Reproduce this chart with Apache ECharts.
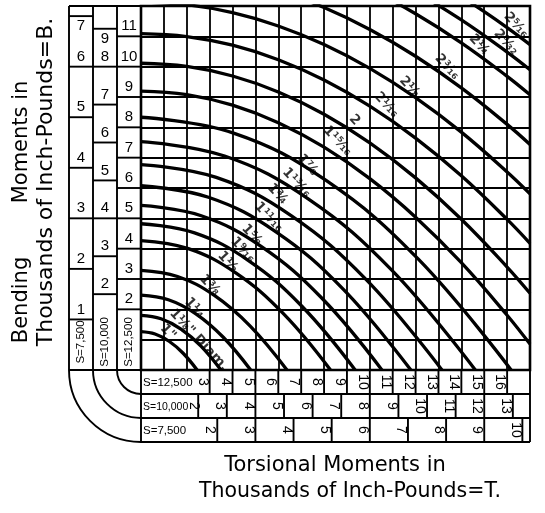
<!DOCTYPE html>
<html><head><meta charset="utf-8">
<script src="https://cdn.jsdelivr.net/npm/echarts@6/dist/echarts.min.js"></script>
<style>html,body{margin:0;padding:0;background:#fff}#c{width:545px;height:513px}</style>
</head><body><div id="c"></div>
<script>
// ---- data (T, B in thousands of in-lb on the S=12,500 scale) ----
const diameterLabels = ['1"', '1⅛" Diam.', '1¼', '1⅜', '1½', '1⁹⁄₁₆', '1⅝', '1¹¹⁄₁₆', '1¾', '1¹³⁄₁₆', '1⅞', '1¹⁵⁄₁₆', '2', '2¹⁄₁₆', '2⅛', '2³⁄₁₆', '2¼', '2⁹⁄₃₂', '2⁵⁄₁₆'];
const c1  = [[0,1.264],[0.614,1.185],[1.227,0.948],[1.841,0.553],[2.454,0]];
const c2  = [[0,1.800],[0.874,1.688],[1.747,1.350],[2.621,0.788],[3.494,0]];
const c3  = [[0,2.469],[1.198,2.315],[2.397,1.852],[3.595,1.080],[4.793,0]];
const c4  = [[0,3.286],[1.595,3.081],[3.190,2.465],[4.784,1.438],[6.379,0]];
const c5  = [[0,4.266],[2.071,4.000],[4.141,3.200],[6.212,1.866],[8.282,0]];
const c6  = [[0,4.822],[2.340,4.521],[4.681,3.617],[7.021,2.110],[9.361,0]];
const c7  = [[0,5.424],[2.633,5.085],[5.265,4.068],[7.898,2.373],[10.530,0]];
const c8  = [[0,6.074],[2.948,5.694],[5.897,4.556],[8.845,2.657],[11.793,0]];
const c9  = [[0,6.774],[3.288,6.351],[6.576,5.081],[9.864,2.964],[13.152,0]];
const c10 = [[0,7.526],[3.653,7.056],[7.306,5.645],[10.959,3.293],[14.612,0]];
const c11 = [[0,8.332],[4.044,7.811],[8.088,6.249],[12.132,3.645],[16.176,0]];
const c12 = [[0,9.193],[2,9.078],[4,8.731],[6,8.154],[8,7.346],[10,6.308],[12,5.038],[14,3.538],[16,1.806],[17,0.854]];
const c13 = [[0,10.112],[2,10.007],[4,9.692],[6,9.167],[8,8.433],[10,7.488],[12,6.334],[14,4.970],[16,3.395],[17,2.530]];
const c14 = [[0,11.090],[2,10.994],[4,10.707],[6,10.229],[8,9.559],[10,8.698],[12,7.645],[14,6.401],[16,4.966],[17,4.176]];
const c15 = [[0,12.129],[2,12.042],[4,11.779],[6,11.342],[8,10.729],[10,9.942],[12,8.979],[14,7.842],[16,6.529],[17,5.807]];
const c16 = [[4,12.910],[6,12.509],[8,11.948],[10,11.226],[12,10.343],[14,9.301],[16,8.098],[17,7.436]];
const c17 = [[8,13.219],[10,12.555],[12,11.745],[14,10.786],[16,9.681],[17,9.073]];
const c18 = [[10,13.238],[12,12.460],[14,11.541],[16,10.480],[17,9.897]];
const c19 = [[11,13.577],[13,12.763],[14,12.304],[15,11.812],[16,11.286],[17,10.726]];
const curves = [c1,c2,c3,c4,c5,c6,c7,c8,c9,c10,c11,c12,c13,c14,c15,c16,c17,c18,c19];
const labelPoints = [[1.18,1.25],[2.53,0.99],[2.35,2.04],[3.01,2.80],[3.79,3.56],[4.45,3.96],[4.84,4.45],[5.58,5.04],[5.97,5.80],[6.80,6.17],[7.28,6.76],[8.59,7.55],[9.33,8.24],[10.72,8.74],[11.73,9.33],[13.38,9.99],[14.78,10.72],[15.95,10.81],[16.39,11.37]];

// scale ticks for the three allowable stresses
const stressValues = [12500, 10000, 7500];
const stressNames  = ['S=12,500', 'S=10,000', 'S=7,500'];
const torsionTicks12500 = [3,4,5,6,7,8,9,10,11,12,13,14,15,16];
const torsionTicks10000 = [2,3,4,5,6,7,8,9,10,11,12,13];
const torsionTicks7500  = [2,3,4,5,6,7,8,9,10];
const bendingTicks12500 = [2,3,4,5,6,7,8,9,10,11];
const bendingTicks10000 = [2,3,4,5,6,7,8,9];
const bendingTicks7500  = [1,2,3,4,5,6,7];
const torsionTicks = [torsionTicks12500, torsionTicks10000, torsionTicks7500];
const bendingTicks = [bendingTicks12500, bendingTicks10000, bendingTicks7500];

const FONT = "'DejaVu Sans', sans-serif";
const SFONT = "'Liberation Sans', Arial, sans-serif";

function frameRender(params, api) {
  const o = api.coord([0, 0]);
  const tr = api.coord([17, 12]);
  const W = 24, LW = 1.9;
  const ch = [];
  const line = (x1, y1, x2, y2, w) => ch.push({type: 'line', shape: {x1, y1, x2, y2}, style: {stroke: '#000', lineWidth: w || LW}});
  const text = (str, x, y, rot, size, align, weight) => ch.push({type: 'text', x, y, rotation: rot || 0,
    style: {text: str, x: 0, y: 0, fill: '#000', fontSize: size, fontFamily: SFONT, fontWeight: weight || 'normal',
            align: align || 'center', verticalAlign: 'middle'}});
  stressValues.forEach((S, i) => {
    const f = 12500 / S;
    // horizontal strip (torsion)
    const yTop = o[1] + i * W, yBot = o[1] + (i + 1) * W, yMid = (yTop + yBot) / 2;
    line(o[0], yBot, tr[0], yBot);
    torsionTicks[i].forEach((v, k) => {
      const x = api.coord([v * f, 0])[0];
      line(x, yTop, x, yBot);
      text(String(v), x - (i === 1 && k === 0 ? 4 : 7), yMid, -Math.PI / 2, 14);
    });
    text(stressNames[i], o[0] + 2, yMid + 1, 0, i === 1 ? 10.5 : 11.5, 'left');
    // vertical strip (bending)
    const xR = o[0] - i * W, xL = o[0] - (i + 1) * W, xMid = (xL + xR) / 2;
    line(xL, tr[1], xL, o[1]);
    const bt = bendingTicks[i];
    bt.forEach((v, k) => {
      const y = api.coord([0, v * f])[1];
      line(xL, y, xR, y);
      const below = i > 0 && k === bt.length - 1;
      text(String(v), xMid, below ? y + 10 : y - 10, 0, 15);
    });
    text(stressNames[i], xMid, o[1] - 28, Math.PI / 2, 11.5);
    ch.push({type: 'arc', shape: {cx: o[0], cy: o[1], r: (i + 1) * W, startAngle: Math.PI / 2, endAngle: Math.PI, clockwise: true},
      style: {stroke: '#000', fill: null, lineWidth: LW}});
  });
  line(o[0], o[1], o[0], o[1] + 3 * W);
  line(o[0] - 3 * W, tr[1], o[0], tr[1]);
  line(o[0] - 3 * W, o[1], o[0], o[1]);
  line(tr[0], o[1], tr[0], o[1] + 3 * W);
  return {type: 'group', children: ch};
}

const chart = echarts.init(document.getElementById('c'), null, {renderer: 'canvas'});
const axisCommon = {
  type: 'value', interval: 1,
  axisLine: {show: false}, axisTick: {show: false}, axisLabel: {show: false},
  splitLine: {show: true, lineStyle: {color: '#000', width: 1.8}}
};
const titleStyle = (t, size) => ({text: t, x: 0, y: 0, fill: '#000', fontSize: size, fontFamily: FONT, align: 'center', verticalAlign: 'middle'});
chart.setOption({
  animation: false,
  backgroundColor: '#fff',
  grid: {left: 141, top: 6, width: 389, height: 364, show: true, borderColor: '#000', borderWidth: 2.6,
         backgroundColor: 'transparent', containLabel: false, outerBoundsMode: 'none'},
  xAxis: Object.assign({min: 0, max: 17}, axisCommon),
  yAxis: Object.assign({min: 0, max: 12}, axisCommon),
  series: curves.map(c => ({
    type: 'line', data: c, smooth: 0.4, showSymbol: false, symbol: 'none', clip: true, silent: true, z: 3,
    lineStyle: {color: '#000', width: 3.3}
  })).concat([
    {type: 'scatter', data: labelPoints, symbolSize: 2, itemStyle: {color: 'rgba(0,0,0,0)'}, silent: true, z: 5,
     label: {show: true, position: 'inside', rotate: -47, fontSize: 13.5, fontWeight: 'bold', fontFamily: FONT, color: '#000',
             formatter: p => diameterLabels[p.dataIndex]}},
    {type: 'custom', renderItem: frameRender, data: [[0, 0]], clip: false, silent: true, z: 4}
  ]),
  graphic: [
    {type: 'text', x: 22, y: 300, rotation: Math.PI / 2, style: titleStyle('Bending', 21)},
    {type: 'text', x: 22, y: 142, rotation: Math.PI / 2, style: titleStyle('Moments in', 21)},
    {type: 'text', x: 46, y: 182, rotation: Math.PI / 2, style: titleStyle('Thousands of Inch-Pounds=B.', 22)},
    {type: 'text', x: 335, y: 466, style: titleStyle('Torsional Moments in', 21)},
    {type: 'text', x: 350, y: 492, style: titleStyle('Thousands of Inch-Pounds=T.', 20.5)}
  ]
});
</script></body></html>
